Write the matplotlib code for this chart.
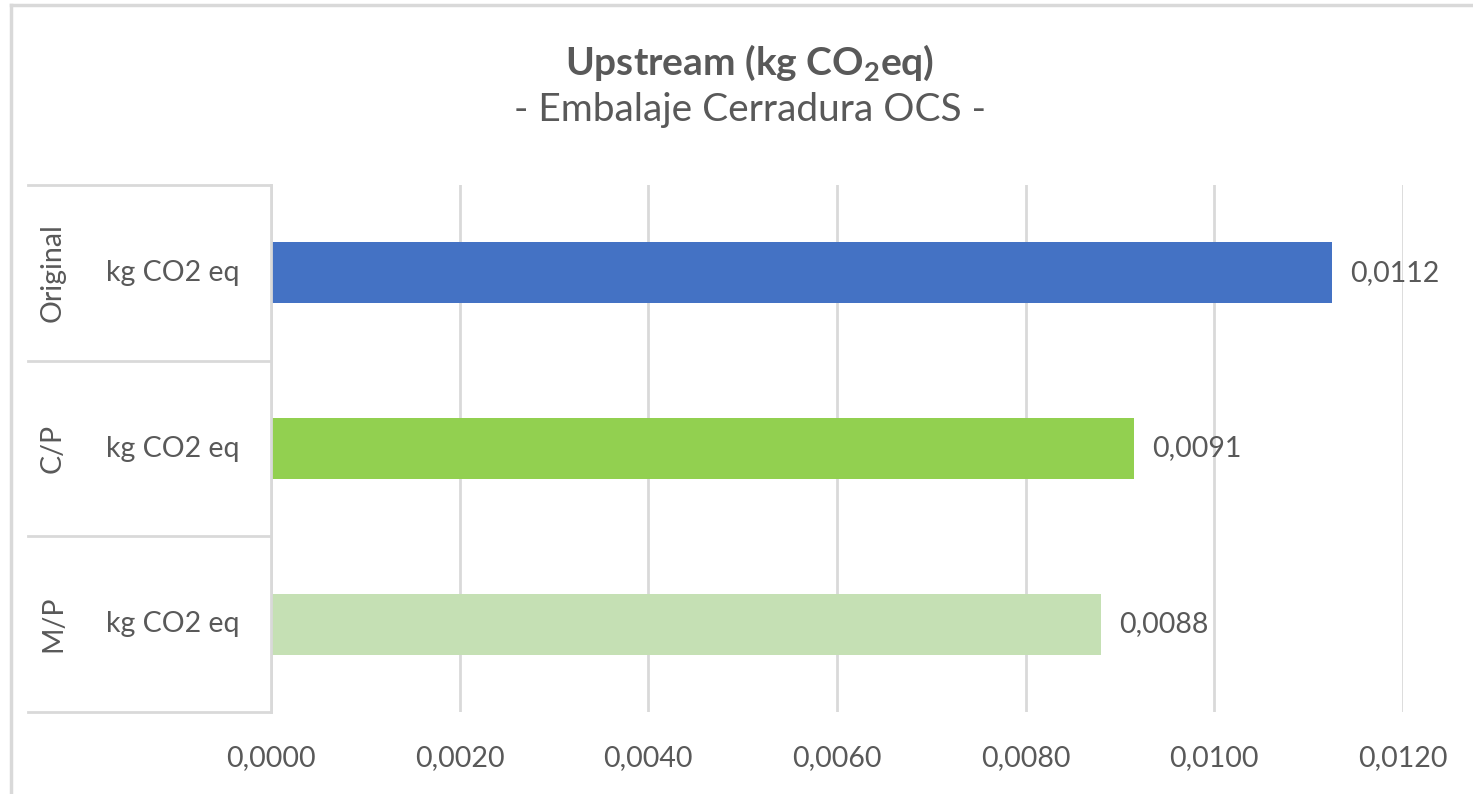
import matplotlib
matplotlib.use("Agg")
import matplotlib.pyplot as plt
from matplotlib.lines import Line2D
import matplotlib.transforms as mtransforms

groups = ["Original", "C/P", "M/P"]
units = ["kg CO2 eq", "kg CO2 eq", "kg CO2 eq"]
values = [0.01125, 0.00915, 0.00880]
labels = ["0,0112", "0,0091", "0,0088"]
colors = ["#4472C4", "#92D050", "#C5E0B4"]
xticks = [0.0, 0.002, 0.004, 0.006, 0.008, 0.010, 0.012]

plt.rcParams["font.family"] = ["Lato", "DejaVu Sans"]
plt.rcParams["mathtext.fontset"] = "custom"
plt.rcParams["mathtext.rm"] = "Lato"
plt.rcParams["mathtext.bf"] = "Lato:bold"
plt.rcParams["mathtext.default"] = "regular"

TXT = "#595959"
GRID = "#D9D9D9"

fig = plt.figure(figsize=(14.73, 7.94), dpi=100)
W, H = 1473, 794
ax = fig.add_axes([271 / W, 1 - 712 / H, (1403 - 271) / W, (712 - 185) / H])

ypos = list(range(len(groups)))
ax.barh(ypos, values, height=0.347, color=colors, zorder=3)
ax.set_ylim(2.5, -0.5)
ax.set_xlim(0, 0.012)
ax.set_xticks(xticks)
ax.set_xticklabels([f"{t:.4f}".replace(".", ",") for t in xticks], fontsize=20.5, color=TXT)
ax.tick_params(axis="x", length=0, pad=24)
ax.set_yticks([])
ax.grid(axis="x", color=GRID, linewidth=2, zorder=0)
for s in ["top", "right", "bottom"]:
    ax.spines[s].set_visible(False)
ax.spines["left"].set_color(GRID)
ax.spines["left"].set_linewidth(2)
ax.spines["left"].set_zorder(4)

for y, v, lab in zip(ypos, values, labels):
    ax.annotate(lab, (v, y), xytext=(18, 0), textcoords="offset pixels",
                ha="left", va="center", fontsize=20.5, color=TXT)

trans = mtransforms.blended_transform_factory(ax.transAxes, ax.transData)
x_left = (28 - 271) / (1403 - 271)
x_unit = (173 - 271) / (1403 - 271)
x_grp = (53 - 271) / (1403 - 271)
for yb in [-0.5, 0.5, 1.5, 2.5]:
    ax.add_line(Line2D([x_left, 0], [yb, yb], transform=trans, color=GRID, linewidth=2, clip_on=False))
for y, g, u in zip(ypos, groups, units):
    ax.text(x_unit, y, u, transform=trans, ha="center", va="center", fontsize=20.5, color=TXT)
    ax.text(x_grp, y, g, transform=trans, ha="center", va="center", rotation=90, fontsize=20.5, color=TXT)

fig.text(750 / W, 1 - 75 / H, r"Upstream (kg CO$_2$eq)", ha="center", va="baseline",
         fontsize=28, fontweight="bold", color=TXT)
fig.text(750 / W, 1 - 121 / H, "- Embalaje Cerradura OCS -", ha="center", va="baseline",
         fontsize=28, color=TXT)

# chart frame (left and top edges)
fig.add_artist(Line2D([10.5 / W, 10.5 / W], [0, 1 - 4.5 / H], transform=fig.transFigure, color=GRID, linewidth=2.5))
fig.add_artist(Line2D([10.5 / W, 1], [1 - 4.5 / H, 1 - 4.5 / H], transform=fig.transFigure, color=GRID, linewidth=2.5))

fig.savefig("out.png", dpi=100)
